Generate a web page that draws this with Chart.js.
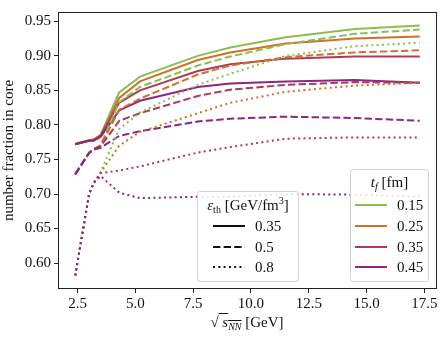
<!DOCTYPE html>
<html>
<head>
<meta charset="utf-8">
<script src="https://cdn.jsdelivr.net/npm/chart.js@4"></script>
<style>
  html, body { margin: 0; padding: 0; background: #fff; }
  #wrap { position: relative; width: 445px; height: 339px; font-family: "Liberation Serif", "DejaVu Serif", serif; color: #111; }
  canvas { position: absolute; left: 0; top: 0; }
  .legend { position: absolute; background: rgba(255,255,255,0.85); border: 1px solid #d4d4d4; border-radius: 3px; box-sizing: border-box; }
  .legend .title, .legend .label { position: absolute; font-size: 15px; line-height: 18px; white-space: nowrap; }
  .legend svg { position: absolute; }
  .xtitle { position: absolute; font-size: 15px; line-height: 18px; white-space: nowrap; transform: translateX(-50%); }
  .ov { text-decoration: overline; }
  sub { font-size: 10px; vertical-align: -3px; line-height: 0; }
  sup { font-size: 10px; vertical-align: 6px; line-height: 0; }
</style>
</head>
<body>
<div id="wrap">
  <canvas id="chart" width="445" height="339"></canvas>
  <div class="xtitle" style="left:247px; top:313px;">√<span class="ov">&nbsp;<i>s</i><sub><i>NN</i></sub></span> [GeV]</div>
  <div id="legendEps" class="legend" style="left:197px; top:191px; width:102px; height:91px;"></div>
  <div id="legendTf" class="legend" style="left:350px; top:169px; width:79px; height:113px;"></div>
</div>
<script>
  // collision energies (GeV)
  const energies = [2.4, 3.0, 3.2, 3.5, 4.3, 5.2, 7.7, 9.1, 11.5, 14.5, 17.3];

  const tfLabels = ['0.15', '0.25', '0.35', '0.45'];
  const epsLabels = ['0.35', '0.5', '0.8'];
  const tfColors = ['#8cbd52', '#d06e2c', '#ad3a58', '#8c2680'];

  const yTicks = [0.60, 0.65, 0.70, 0.75, 0.80, 0.85, 0.90, 0.95];
  const xTicks = [2.5, 5.0, 7.5, 10.0, 12.5, 15.0, 17.5];

  // eps_th = 0.35
  const eps035_tf015 = [0.773, 0.778, 0.779, 0.786, 0.847, 0.870, 0.900, 0.912, 0.927, 0.939, 0.944];
  const eps035_tf025 = [0.772, 0.778, 0.779, 0.785, 0.839, 0.863, 0.894, 0.905, 0.918, 0.925, 0.928];
  const eps035_tf035 = [0.772, 0.777, 0.778, 0.784, 0.832, 0.850, 0.878, 0.888, 0.896, 0.899, 0.899];
  const eps035_tf045 = [0.772, 0.777, 0.777, 0.783, 0.821, 0.835, 0.855, 0.860, 0.863, 0.865, 0.861];

  // eps_th = 0.5
  const eps05_tf015 = [0.729, 0.760, 0.765, 0.771, 0.833, 0.855, 0.886, 0.899, 0.917, 0.932, 0.938];
  const eps05_tf025 = [0.729, 0.760, 0.765, 0.770, 0.822, 0.838, 0.873, 0.886, 0.898, 0.905, 0.908];
  const eps05_tf035 = [0.729, 0.760, 0.765, 0.769, 0.806, 0.817, 0.842, 0.851, 0.858, 0.862, 0.861];
  const eps05_tf045 = [0.728, 0.759, 0.764, 0.767, 0.784, 0.791, 0.805, 0.809, 0.812, 0.810, 0.806];

  // eps_th = 0.8
  const eps08_tf015 = [0.582, 0.700, 0.716, 0.732, 0.794, 0.818, 0.858, 0.874, 0.900, 0.914, 0.919];
  const eps08_tf025 = [0.582, 0.700, 0.716, 0.731, 0.770, 0.790, 0.817, 0.832, 0.848, 0.857, 0.861];
  const eps08_tf035 = [0.582, 0.700, 0.716, 0.730, 0.734, 0.740, 0.760, 0.768, 0.780, 0.782, 0.782];
  const eps08_tf045 = [0.582, 0.700, 0.716, 0.726, 0.702, 0.694, 0.696, 0.696, 0.700, 0.699, 0.696];

  const seriesByEps = [
    [eps035_tf015, eps035_tf025, eps035_tf035, eps035_tf045],
    [eps05_tf015, eps05_tf025, eps05_tf035, eps05_tf045],
    [eps08_tf015, eps08_tf025, eps08_tf035, eps08_tf045],
  ];
  const dashes = [[], [7.4, 3.2], [2, 3.3]];

  const datasets = [];
  seriesByEps.forEach((group, e) => {
    group.forEach((values, t) => {
      datasets.push({
        label: `eps ${epsLabels[e]}, tf ${tfLabels[t]}`,
        data: values.map((v, i) => ({ x: energies[i], y: v })),
        borderColor: tfColors[t],
        borderWidth: 2,
        borderDash: dashes[e],
        borderCapStyle: 'butt',
        pointRadius: 0,
        fill: false,
        tension: 0,
        order: -datasets.length,
      });
    });
  });

  const frame = {
    id: 'frame',
    afterDraw(chart) {
      const a = chart.chartArea;
      const ctx = chart.ctx;
      ctx.save();
      ctx.strokeStyle = '#222';
      ctx.lineWidth = 1;
      ctx.strokeRect(Math.round(a.left) + 0.5, Math.round(a.top) + 0.5,
        Math.round(a.right - a.left) - 1, Math.round(a.bottom - a.top) - 1);
      ctx.restore();
    },
  };

  const font = { family: '"Liberation Serif", "DejaVu Serif", serif', size: 15 };

  new Chart(document.getElementById('chart'), {
    type: 'line',
    data: { datasets },
    plugins: [frame],
    options: {
      responsive: false,
      animation: false,
      layout: { padding: { left: 0, top: 7, right: 8, bottom: 0 } },
      plugins: { legend: { display: false }, tooltip: { enabled: false } },
      scales: {
        x: {
          type: 'linear',
          min: 1.655,
          max: 18.045,
          afterBuildTicks: (axis) => { axis.ticks = xTicks.map((v) => ({ value: v })); },
          afterFit: (axis) => { axis.height = 50; },
          ticks: { color: '#111', font, padding: 2, maxRotation: 0, callback: (v) => Number(v).toFixed(1) },
          grid: { drawOnChartArea: false, tickLength: 4, color: '#222' },
          border: { display: false },
        },
        y: {
          min: 0.5625,
          max: 0.9635,
          afterBuildTicks: (axis) => { axis.ticks = yTicks.map((v) => ({ value: v })); },
          afterFit: (axis) => { axis.width = 58; },
          ticks: { color: '#111', font, padding: 3, callback: (v) => Number(v).toFixed(2) },
          grid: { drawOnChartArea: false, tickLength: 4, color: '#222' },
          border: { display: false },
          title: { display: true, text: 'number fraction in core', color: '#111', font, padding: { top: 0, bottom: 0 } },
        },
      },
    },
  });

  function lineSvg(color, dash, width) {
    const d = dash.length ? `stroke-dasharray="${dash.join(',')}"` : '';
    return `<svg width="${width}" height="4" viewBox="0 0 ${width} 4"><line x1="0" y1="2" x2="${width}" y2="2" stroke="${color}" stroke-width="2" ${d}/></svg>`;
  }

  // eps_th legend (line styles)
  const epsBox = document.getElementById('legendEps');
  let html = '<div class="title" style="left:0;width:100%;text-align:center;top:4px;"><i>ε</i><sub>th</sub> [GeV/fm<sup>3</sup>]</div>';
  epsLabels.forEach((lab, i) => {
    const y = 34 + i * 20.5;
    html += `<div style="position:absolute;left:15px;top:${y - 2}px;">${lineSvg('#111', dashes[i], 32)}</div>`;
    html += `<div class="label" style="left:57px;top:${y - 9}px;">${lab}</div>`;
  });
  epsBox.innerHTML = html;

  // t_f legend (colours)
  const tfBox = document.getElementById('legendTf');
  html = '<div class="title" style="left:0;width:100%;text-align:center;top:3px;"><i>t<sub>f</sub></i> [fm]</div>';
  tfLabels.forEach((lab, i) => {
    const y = 35 + i * 20.8;
    html += `<div style="position:absolute;left:4px;top:${y - 2}px;">${lineSvg(tfColors[i], [], 32)}</div>`;
    html += `<div class="label" style="left:46px;top:${y - 9}px;">${lab}</div>`;
  });
  tfBox.innerHTML = html;
</script>
</body>
</html>
